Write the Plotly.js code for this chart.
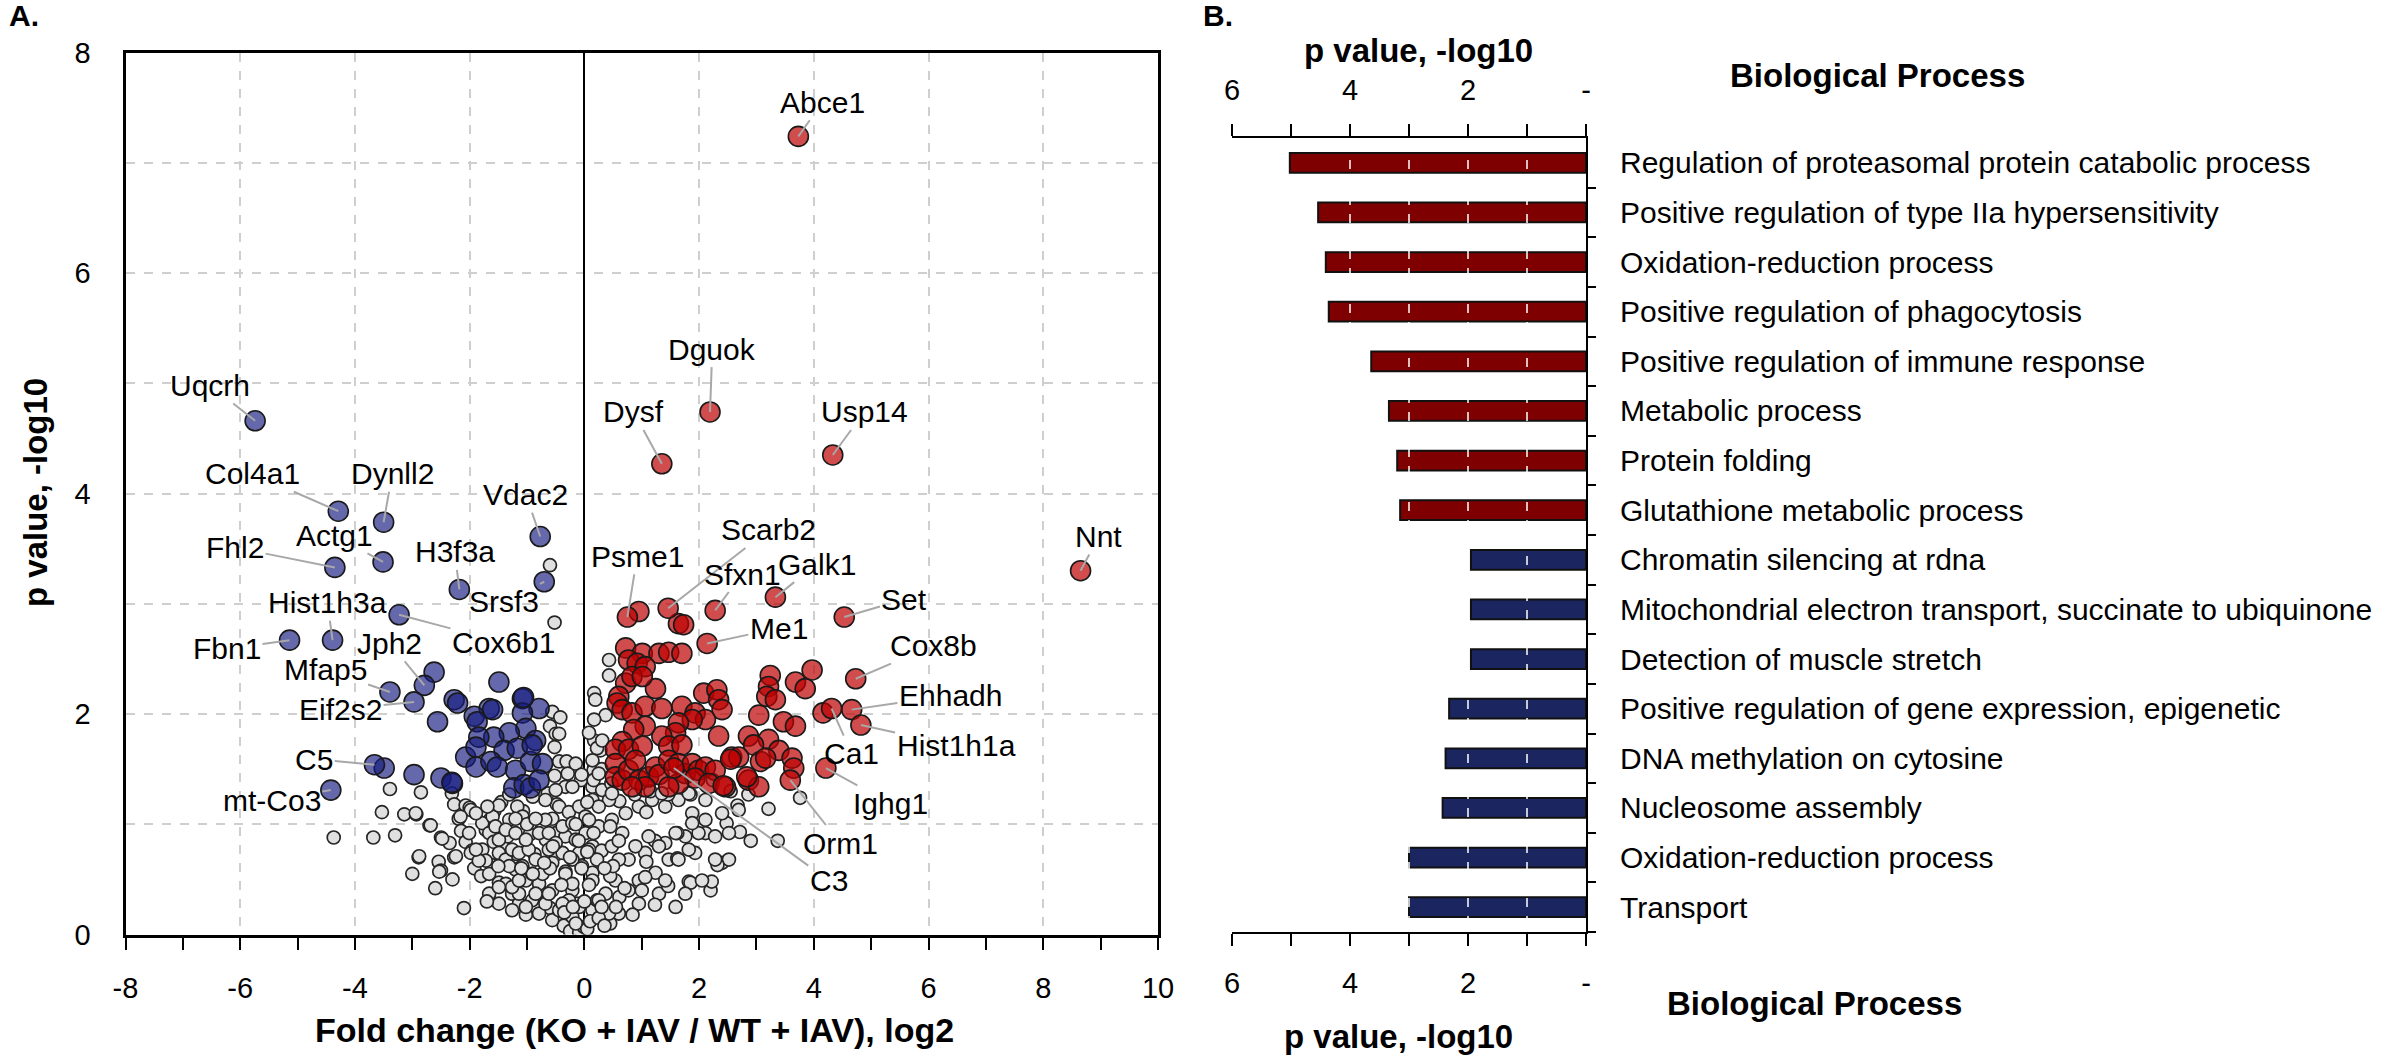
<!DOCTYPE html>
<html>
<head>
<meta charset="utf-8">
<script src="https://cdn.plot.ly/plotly-3.0.1.min.js"></script>
<style>
  html, body { margin: 0; padding: 0; background: #fff; }
  #chart { width: 2400px; height: 1056px; }
</style>
</head>
<body>
<div id="chart"></div>
<script>
// ---------- panel A: volcano ----------
// not significant proteins (grey)
const grayX = [
  -4.37, -3.68, -3.30, -3.39, -3.53, -3.14, -2.93, -2.85, -2.70, -2.89, -2.50, -2.54, -2.35, -2.31, -2.27, -2.50,
  -2.27, -2.07, -2.00, -2.10, -2.19, -2.15, -2.07, -1.96, -1.92, -1.80, -1.84, -1.72, -1.65, -1.57, -1.45, -1.41,
  -1.61, -1.49, -1.26, -1.14, -1.02, -1.34, -1.18, -1.07, -0.95, -0.87, -0.79, -0.71, -0.60, -0.48, -0.36, -0.25,
  -0.09, -0.56, -0.42, -0.60, -0.52, -0.44, -0.52, -0.31, -0.29, -0.33, -0.64, -0.48, -0.56, -0.40, -0.67, -0.48,
  -0.33, -0.21, -0.13, -0.52, -0.60, -2.94, -2.68, -2.48, -2.88, -2.53, -2.24, -1.98, -2.16, -2.01, -1.98, -1.66,
  -1.49, -1.26, -0.79, -0.56, -1.78, -1.60, -1.49, -1.31, -1.66, -1.58, -1.78, -1.49, -1.37, -1.26, -1.14, -0.97,
  -0.85, -1.20, -1.37, -1.02, -0.79, -0.56, -1.14, -0.91, -0.68, -0.44, -0.21, -0.79, -0.50, -0.33, -0.44, -0.27,
  -0.68, -0.50, -0.50,
  -1.89, -1.69, -1.55, -1.31, -1.17, -1.08, -0.94, -0.68, -0.62, -0.38, -0.21, -0.15, -0.09, -0.04, -0.38, -0.56,
  -0.73, -0.91, -1.08, -1.26, -1.49, -1.66, -1.72, -1.84, -1.89, -0.33, -0.21, -0.27, -0.09, -0.38, -0.62, -0.85,
  -1.02, -1.14, -1.31, -1.49, -1.37, -1.20, -1.02, -0.62, -0.50, -0.21, -0.09, -0.06, -0.15, -0.21, -0.44,
  0.02, 0.14, 0.17, 0.17, 0.17, 0.19, 0.14, 0.43, 0.43, 0.37, 0.28, 0.16, 0.16, 0.31, 0.14, 0.02,
  0.25, 0.48, 0.72, 0.95, 1.18, 1.41, 1.64, 1.88, 2.11, 2.28, 2.40, 2.20, 1.82, 1.47, 1.24, 1.06,
  0.77, 0.54, 0.37, 0.14, -0.01, 0.60, 0.95, 1.30, 0.95, 1.41, 1.76, 1.93, 3.21, 3.37, 3.76, 2.90,
  2.71, 2.48, 2.52, 2.32, 2.22, 1.85, 1.62, 1.46, 1.23, 0.84, 0.45, 1.00, 0.61, 0.45, 1.08, 1.23,
  1.62, 1.08, 0.45, 0.30, 0.14, 0.22, 0.30, 0.22, 0.47, 0.61, 0.88, 1.15, 1.46, 1.85, 2.24, 2.55,
  2.67, 2.86, 2.69,
  0.08, 0.16, 0.08, 0.22, 0.14, 0.25, 0.43, 0.48, 0.66, 0.60, 0.89, 1.12, 1.30, 1.06, 0.77, 1.41,
  1.59, 1.64, 1.82, 1.99, 2.11, 1.88, 0.43, 0.25, 0.48, 1.35, 1.82, 2.11, 2.40, 2.52, 2.28, 2.05,
  1.76, 1.59, 0.14, 0.25, 0.31, 0.17, 0.08,
  -0.15, 0.05, 0.10, 0.25, 0.30, 0.35, -0.35, -0.20, 0.00, 0.08, -0.05, 0.05, -0.10, -0.15, 0.05, -0.05,
  0.55, 0.70, 0.50, 0.60, 0.35, -0.40, -0.60, -0.25, -0.90, -0.70, -0.55, -1.00, -0.85, -1.20, -0.90, -1.10,
  -1.70, -2.30, -2.60, -3.00, -1.50
];
const grayY = [
  0.88, 0.88, 0.90, 1.32, 1.11, 1.09, 1.09, 1.29, 0.99, 0.70, 0.88, 0.66, 0.83, 1.28, 1.18, 0.58,
  0.70, 1.17, 1.15, 0.24, 1.05, 0.94, 0.84, 0.76, 0.60, 0.53, 0.70, 0.95, 1.04, 1.12, 1.20, 0.79,
  0.63, 0.47, 0.37, 0.28, 0.18, 0.89, 0.73, 1.12, 0.91, 0.73, 0.53, 0.37, 0.24, 0.15, 0.08, 0.03,
  0.02, 2.02, 1.97, 1.89, 1.70, 1.57, 1.44, 1.57, 1.46, 1.34, 1.28, 1.18, 1.05, 0.95, 0.86, 0.73,
  0.57, 0.40, 0.28, 2.83, 3.35, 1.10, 0.99, 0.87, 0.71, 0.57, 0.71, 1.13, 1.07, 0.92, 0.74, 0.37,
  0.28, 0.22, 0.19, 0.13, 1.01, 1.07, 1.17, 1.27, 0.92, 0.84, 0.77, 0.74, 0.68, 0.77, 0.74, 0.77,
  0.68, 0.59, 0.46, 0.49, 0.46, 0.40, 0.37, 0.31, 0.28, 0.22, 0.16, 0.92, 0.92, 0.89, 1.16, 1.11,
  1.22, 1.31, 1.82,
  1.10, 1.16, 0.98, 1.04, 1.16, 1.07, 1.01, 1.04, 0.92, 0.98, 1.01, 0.86, 0.74, 0.62, 0.74, 0.65,
  0.55, 0.55, 0.62, 0.43, 0.43, 0.55, 0.67, 0.67, 0.77, 0.55, 0.46, 0.31, 0.25, 0.28, 0.37, 0.37,
  0.25, 0.49, 0.62, 0.86, 0.95, 0.92, 0.86, 0.77, 0.83, 0.68, 1.16, 1.40, 1.55, 1.34, 1.82,
  0.92, 0.80, 1.76, 1.52, 2.19, 2.13, 1.34, 2.49, 2.35, 1.99, 1.67, 1.49, 1.40, 1.31, 1.22, 1.07,
  0.98, 1.04, 1.10, 1.16, 1.22, 1.16, 1.22, 1.10, 0.92, 0.89, 0.65, 0.40, 0.48, 0.68, 0.56, 0.74,
  0.68, 0.49, 0.37, 0.22, 0.07, 0.19, 0.28, 0.37, 0.49, 0.83, 0.89, 0.74, 1.14, 0.85, 1.24, 0.85,
  0.93, 1.01, 0.68, 0.63, 0.48, 0.47, 0.69, 0.44, 0.27, 0.18, 0.10, 0.40, 0.34, 0.53, 0.66, 0.85,
  0.92, 1.11, 0.98, 0.76, 0.56, 0.31, 1.50, 1.69, 1.37, 1.21, 1.27, 1.30, 1.27, 1.27, 1.40, 1.30,
  1.17, 1.27, 1.13,
  1.04, 0.92, 0.77, 0.68, 0.49, 0.31, 0.19, 0.80, 0.92, 0.68, 0.80, 0.89, 0.80, 0.52, 0.40, 0.49,
  0.92, 0.68, 0.77, 0.92, 1.04, 1.01, 1.22, 1.16, 1.28, 1.28, 1.28, 1.22, 1.10, 0.92, 0.68, 0.49,
  0.37, 0.25, 1.58, 1.46, 1.76, 1.95, 1.83,
  0.10, 0.05, 0.12, 0.15, 0.25, 0.08, 0.20, 0.25, 0.30, 0.45, 0.60, 0.75, 0.85, 1.00, 1.20, 1.45,
  0.25, 0.42, 0.62, 0.85, 0.60, 0.45, 0.60, 0.70, 0.55, 0.65, 0.80, 1.00, 1.05, 1.05, 1.25, 0.60,
  0.30, 0.50, 0.42, 0.55, 0.62
];

// decreased proteins (blue), unlabelled
const downX = [
  -2.62, -2.56, -1.49, -2.27, -2.21, -1.66, -1.60, -1.08, -0.79, -1.92, -1.87, -1.08, -1.02, -1.31, -1.58, -1.84,
  -0.85, -2.07, -1.89, -1.40, -1.89, -1.63, -1.52, -1.20, -0.94, -0.73, -2.97, -2.50, -2.30, -1.23, -1.05, -0.94,
  -0.79, -1.17, -0.91, -3.49, -1.06, -2.31
];
const downY = [
  2.38, 1.93, 2.29, 2.13, 2.10, 2.05, 2.04, 2.14, 2.05, 1.98, 1.93, 2.01, 1.87, 1.83, 1.79, 1.79,
  1.76, 1.61, 1.70, 1.67, 1.52, 1.57, 1.52, 1.49, 1.57, 1.55, 1.45, 1.42, 1.37, 1.33, 1.36, 1.33,
  1.40, 1.69, 1.72, 1.51, 2.15, 1.38
];

// increased proteins (red), unlabelled
const upX = [
  0.95, 1.64, 1.73, 0.72, 1.01, 1.30, 1.47, 1.70, 0.77, 0.92, 1.06, 1.24, 0.72, 0.83, 1.01, 0.60,
  0.57, 0.66, 0.83, 1.06, 1.35, 1.70, 1.93, 2.08, 2.31, 2.34, 2.40, 2.11, 2.34, 1.88, 1.64, 1.59,
  1.35, 1.06, 0.86, 0.66, 0.54, 0.77, 1.01, 1.47, 1.70, 0.54, 0.54, 0.66, 0.77, 0.89, 0.95, 1.12,
  1.24, 1.30, 1.47, 1.64, 1.76, 1.88, 1.99, 2.11, 2.28, 1.93, 1.64, 1.47, 2.17, 2.46, 2.57, 1.06,
  0.83, 3.24, 3.21, 3.18, 3.33, 3.97, 3.68, 3.85, 3.04, 3.47, 3.68, 2.86, 3.21, 2.95, 3.39, 3.07,
  3.16, 3.62, 3.65, 2.86, 3.04, 4.16, 2.69, 2.55, 2.83, 2.42
];
const upY = [
  2.93, 2.82, 2.81, 2.60, 2.55, 2.55, 2.56, 2.55, 2.49, 2.46, 2.43, 2.23, 2.28, 2.34, 2.34, 2.16,
  2.10, 2.04, 2.01, 2.07, 2.05, 2.07, 2.01, 2.19, 2.22, 2.13, 2.04, 1.95, 1.80, 1.95, 1.92, 1.83,
  1.80, 1.89, 1.86, 1.75, 1.68, 1.68, 1.71, 1.71, 1.72, 1.55, 1.43, 1.40, 1.49, 1.58, 1.40, 1.43,
  1.52, 1.45, 1.58, 1.55, 1.46, 1.55, 1.49, 1.52, 1.49, 1.42, 1.37, 1.34, 1.37, 1.34, 1.61, 1.34,
  1.34, 2.35, 2.25, 2.16, 2.13, 2.40, 2.29, 2.23, 1.99, 1.93, 1.89, 1.80, 1.77, 1.72, 1.67, 1.57,
  1.60, 1.60, 1.51, 1.40, 1.34, 2.01, 1.61, 1.59, 1.43, 1.35
];

// labelled proteins
const geneNames = [
  "Uqcrh", "Col4a1", "Dynll2", "Vdac2", "Actg1", "Fhl2", "H3f3a", "Srsf3", "Hist1h3a", "Cox6b1",
  "Jph2", "Fbn1", "Mfap5", "Eif2s2", "C5", "mt-Co3",
  "Abce1", "Dguok", "Dysf", "Usp14", "Nnt", "Psme1", "Scarb2", "Sfxn1", "Galk1", "Me1",
  "Set", "Cox8b", "Ehhadh", "Ca1", "Hist1h1a", "Ighg1", "Orm1", "C3"
];
const geneDir = [
  "down", "down", "down", "down", "down", "down", "down", "down", "down", "down",
  "down", "down", "down", "down", "down", "down",
  "up", "up", "up", "up", "up", "up", "up", "up", "up", "up",
  "up", "up", "up", "up", "up", "up", "up", "up"
];
const geneX = [
  -5.74, -4.29, -3.50, -0.77, -3.51, -4.35, -2.18, -0.70, -4.39, -3.23,
  -2.79, -5.14, -3.39, -2.97, -3.66, -4.42,
  3.73, 2.19, 1.35, 4.33, 8.65, 0.75, 1.46, 2.28, 3.33, 2.14,
  4.53, 4.73, 4.66, 4.31, 4.82, 4.21, 3.59, 1.56
];
const geneY = [
  4.66, 3.84, 3.74, 3.61, 3.38, 3.33, 3.13, 3.20, 2.67, 2.90,
  2.26, 2.67, 2.20, 2.11, 1.54, 1.31,
  7.24, 4.74, 4.27, 4.35, 3.30, 2.88, 2.96, 2.94, 3.06, 2.64,
  2.88, 2.32, 2.04, 2.05, 1.90, 1.51, 1.40, 1.51
];
// where each name sits
const labelX = [
  -6.52, -5.78, -3.35, -1.02, -4.36, -6.09, -2.26, -1.41, -4.48, -1.41,
  -3.39, -6.23, -4.52, -4.25, -4.71, -5.45,
  4.15, 2.23, 0.86, 4.88, 8.97, 0.92, 3.21, 2.75, 4.05, 3.39,
  5.58, 6.08, 6.38, 4.66, 6.48, 5.33, 4.46, 4.26
];
const labelY = [
  4.98, 4.18, 4.18, 3.99, 3.62, 3.51, 3.47, 3.02, 3.01, 2.65,
  2.64, 2.59, 2.40, 2.04, 1.59, 1.22,
  7.55, 5.31, 4.74, 4.74, 3.61, 3.43, 3.67, 3.27, 3.36, 2.78,
  3.04, 2.62, 2.17, 1.64, 1.71, 1.19, 0.83, 0.49
];
const foldTicks = [-8, -6, -4, -2, 0, 2, 4, 6, 8, 10];

// ---------- panel B: GO biological process ----------
const processes = [
  "Regulation of proteasomal protein catabolic process",
  "Positive regulation of type IIa hypersensitivity",
  "Oxidation-reduction process",
  "Positive regulation of phagocytosis",
  "Positive regulation of immune response",
  "Metabolic process",
  "Protein folding",
  "Glutathione metabolic process",
  "Chromatin silencing at rdna",
  "Mitochondrial electron transport, succinate to ubiquinone",
  "Detection of muscle stretch",
  "Positive regulation of gene expression, epigenetic",
  "DNA methylation on cytosine",
  "Nucleosome assembly",
  "Oxidation-reduction process",
  "Transport"
];
const processP = [5.02, 4.54, 4.41, 4.36, 3.64, 3.34, 3.20, 3.15, 1.95, 1.95, 1.95, 2.32, 2.38, 2.43, 3.00, 3.00];
const processDir = ["up", "up", "up", "up", "up", "up", "up", "up",
                    "down", "down", "down", "down", "down", "down", "down", "down"];

const FONT = "Liberation Sans, Arial, sans-serif";
const W = 2400, H = 1056;
const px = v => v / W;
const py = v => 1 - v / H;

const pick = (arr, dir, want) => arr.filter((_, i) => dir[i] === want);
const rowIdx = processes.map((_, i) => i);

const pointLine = { color: "#1a1a1a", width: 1.6 };

const traces = [
  {
    x: grayX, y: grayY, type: "scatter", mode: "markers",
    marker: { size: 13, color: "#e0e0e0", line: { color: "#262626", width: 1.7 } },
    hoverinfo: "skip"
  },
  {
    x: downX.concat(pick(geneX, geneDir, "down")),
    y: downY.concat(pick(geneY, geneDir, "down")),
    type: "scatter", mode: "markers",
    marker: { size: 20, color: "rgba(22,28,128,0.66)", line: pointLine },
    hoverinfo: "skip"
  },
  {
    x: upX.concat(pick(geneX, geneDir, "up")),
    y: upY.concat(pick(geneY, geneDir, "up")),
    type: "scatter", mode: "markers",
    marker: { size: 20, color: "rgba(190,0,0,0.7)", line: pointLine },
    hoverinfo: "skip"
  },
  {
    x: processP, y: rowIdx, type: "bar", orientation: "h",
    xaxis: "x2", yaxis: "y2", width: 0.4,
    marker: {
      color: processDir.map(d => d === "up" ? "#7f0000" : "#1b255f"),
      line: { color: "#111111", width: 2 }
    },
    hoverinfo: "skip"
  },
  {
    // same bars on the top axis (kept invisible) so that axis is drawn
    x: processP, y: rowIdx, type: "bar", orientation: "h",
    xaxis: "x3", yaxis: "y2", width: 0.4, opacity: 0,
    hoverinfo: "skip"
  }
];

const annotations = geneNames.map((name, i) => ({
  x: geneX[i], y: geneY[i], xref: "x", yref: "y",
  ax: labelX[i], ay: labelY[i], axref: "x", ayref: "y",
  text: name, showarrow: true, arrowhead: 0, arrowwidth: 2,
  arrowcolor: "#a8a8a8", standoff: 0,
  font: { size: 30, color: "#000", family: FONT }
}));

const textNote = (text, fx, fy, size, extra) => Object.assign({
  text: text, x: px(fx), y: py(fy), xref: "paper", yref: "paper",
  showarrow: false, xanchor: "center", yanchor: "middle",
  font: { size: size, color: "#000", family: FONT }
}, extra || {});

annotations.push(
  textNote("<b>A.</b>", 24, 16, 30),
  textNote("<b>B.</b>", 1218, 16, 30),
  textNote("<b>p value, -log10</b>", 36, 493, 33, { textangle: -90 }),
  textNote("<b>Fold change (KO + IAV / WT + IAV), log2</b>", 634, 1030, 34),
  textNote("<b>p value, -log10</b>", 1418, 50, 33),
  textNote("<b>p value, -log10</b>", 1398, 1036, 33),
  textNote("<b>Biological Process</b>", 1877, 75, 33),
  textNote("<b>Biological Process</b>", 1814, 1003, 33)
);

// white dashed guides across the bars
const shapes = [1, 2, 3, 4].map(v => ({
  type: "line", xref: "x2", yref: "y2", x0: v, x1: v, y0: -0.42, y1: 15.42,
  line: { color: "#ffffff", width: 1.5, dash: "dash" }, layer: "above"
}));

const barTicks = {
  range: [6, 0], tickmode: "array", tickvals: [0, 1, 2, 3, 4, 5, 6],
  ticktext: ["-", "", "2", "", "4", "", "6"],
  ticks: "outside", ticklen: 12, tickwidth: 2, tickcolor: "#000",
  showline: true, linecolor: "#000", linewidth: 2,
  showgrid: false, zeroline: false, fixedrange: true,
  tickfont: { size: 29, color: "#000", family: FONT }, ticklabelstandoff: 12
};

const layout = {
  width: W, height: H, autosize: false,
  margin: { l: 0, r: 0, t: 0, b: 0 },
  paper_bgcolor: "#ffffff", plot_bgcolor: "#ffffff",
  showlegend: false,
  font: { family: FONT, color: "#000" },
  xaxis: {
    domain: [px(125.5), px(1158)], range: [-8, 10],
    tickmode: "array", tickvals: foldTicks, ticktext: foldTicks.map(String),
    ticks: "outside", ticklen: 12, tickwidth: 2, tickcolor: "#000",
    minor: { dtick: 1, tick0: 0, ticks: "outside", ticklen: 12, tickwidth: 2, tickcolor: "#000", showgrid: false },
    showgrid: true, gridcolor: "#cfcfcf", gridwidth: 2, griddash: "dash",
    zeroline: true, zerolinecolor: "#000", zerolinewidth: 2,
    showline: true, mirror: true, linecolor: "#000", linewidth: 3,
    tickfont: { size: 29, color: "#000", family: FONT }, ticklabelstandoff: 14
  },
  yaxis: {
    domain: [py(934.5), py(52.6)], range: [0, 8],
    tickmode: "array", tickvals: [0, 1, 2, 3, 4, 5, 6, 7, 8],
    ticktext: ["0", "", "2", "", "4", "", "6", "", "8"], ticks: "",
    showgrid: true, gridcolor: "#cfcfcf", gridwidth: 2, griddash: "dash",
    zeroline: false,
    showline: true, mirror: true, linecolor: "#000", linewidth: 3,
    tickfont: { size: 29, color: "#000", family: FONT }, ticklabelstandoff: 26
  },
  xaxis2: Object.assign({ domain: [px(1232), px(1586)], anchor: "y2", side: "bottom" }, barTicks),
  xaxis3: Object.assign({ overlaying: "x2", anchor: "y2", side: "top" }, barTicks),
  yaxis2: {
    domain: [py(932), py(138)], anchor: "x2", side: "right",
    range: [15.5, -0.5], tickmode: "array", tickvals: rowIdx, ticktext: processes,
    ticks: "",
    minor: { tickmode: "array", tickvals: rowIdx.map(i => i + 0.5), ticks: "outside", ticklen: 8, tickwidth: 2, tickcolor: "#000", showgrid: false },
    showline: true, linecolor: "#000", linewidth: 2,
    showgrid: false, zeroline: false, fixedrange: true,
    tickfont: { size: 30, color: "#000", family: FONT }, ticklabelstandoff: 26
  },
  annotations: annotations,
  shapes: shapes
};

Plotly.newPlot("chart", traces, layout, { staticPlot: true, displayModeBar: false });
</script>
</body>
</html>
